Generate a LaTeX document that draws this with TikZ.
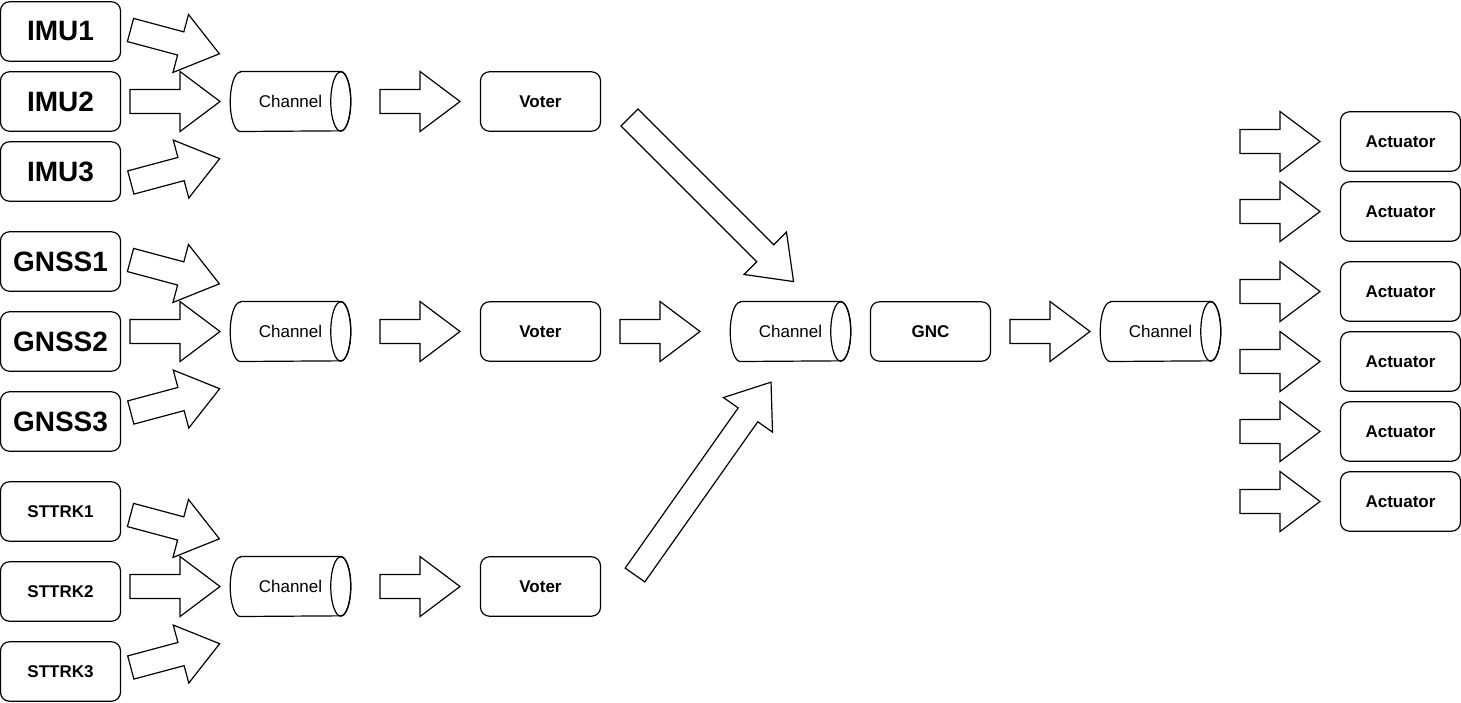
\documentclass[tikz,border=0pt]{standalone}
\usepackage{fontspec}
\setmainfont{Liberation Sans}
\newcommand\chanshape[3]{%
  \node[chantext] (#1) at (#2,#3) {Channel};
  \draw[line] ([xshift=7.5pt]#1.north west) -- ([xshift=-7.5pt]#1.north east)
     arc[start angle=90,end angle=-90,x radius=7.5pt,y radius=22.25pt]
     -- ([xshift=7.5pt]#1.south west)
     arc[start angle=270,end angle=90,x radius=7.5pt,y radius=22.25pt] -- cycle;
  \draw[line] ([xshift=-7.5pt]#1.east) ellipse[x radius=7.5pt,y radius=22.25pt];}
\begin{document}
\begin{tikzpicture}[x=0.75pt,y=-0.75pt,
  line/.style={line width=0.9pt, draw=black},
  box/.style={draw, line width=0.9pt, rounded corners=6.75pt, minimum width=90pt,
    minimum height=44.6pt, inner sep=0pt, font=\bfseries\fontsize{12.75}{15}\selectfont},
  bigbox/.style={box, font=\bfseries\fontsize{21}{25}\selectfont},
  chantext/.style={minimum width=90pt, minimum height=44.6pt, inner sep=0pt,
    font=\fontsize{12.75}{15}\selectfont},
  pics/barrow/.style={code={\draw[line, line join=miter, fill=white]
    (0,-12)--(#1-40,-12)--(#1-40,-30)--(#1,0)--(#1-40,30)--(#1-40,12)--(0,12)--cycle;}}
]
\useasboundingbox (0,0) rectangle (1461,703);

% sensors
\node[bigbox] (imu1) at (60.5,31.5) {IMU1};
\node[bigbox] (imu2) at (60.5,101.5) {IMU2};
\node[bigbox] (imu3) at (60.5,171.5) {IMU3};
\node[bigbox] (gnss1) at (60.5,261.5) {GNSS1};
\node[bigbox] (gnss2) at (60.5,341.5) {GNSS2};
\node[bigbox] (gnss3) at (60.5,421.5) {GNSS3};
\node[box] (st1) at (60.5,511.5) {STTRK1};
\node[box] (st2) at (60.5,591.5) {STTRK2};
\node[box] (st3) at (60.5,671.5) {STTRK3};

% channels
\chanshape{ch1}{290.5}{101.5}
\chanshape{ch2}{290.5}{331.5}
\chanshape{ch3}{290.5}{586.5}
\chanshape{chm}{790.5}{331.5}
\chanshape{chr}{1160.5}{331.5}

% voters, GNC
\node[box] (v1) at (540.5,101.5) {Voter};
\node[box] (v2) at (540.5,331.5) {Voter};
\node[box] (v3) at (540.5,586.5) {Voter};
\node[box] (gnc) at (930.5,331.5) {GNC};

% actuators
\foreach \y [count=\i] in {141.5,211.5,291.5,361.5,431.5,501.5}{
  \node[box] (act\i) at (1400.5,\y) {Actuator};
  \pic at (1240,\y) {barrow=80};
}

% sensor arrows
\foreach \g in {0,230,485}{
  \pic[rotate=-15] at (130.5,30+\g) {barrow=92};
  \pic at (130,101.5+\g) {barrow=90};
  \pic[rotate=15] at (130.8,182.5+\g) {barrow=92};
}

% channel -> voter
\pic at (380,101.5) {barrow=80};
\pic at (380,331.5) {barrow=80};
\pic at (380,586.5) {barrow=80};

% voters -> middle channel
\pic[rotate=-45] at (629.5,117.5) {barrow=232};
\pic at (620,331.5) {barrow=80};
\pic[rotate=54.8] at (635,575) {barrow=236};

% GNC -> right channel
\pic at (1010,331.5) {barrow=80};
\end{tikzpicture}
\end{document}
